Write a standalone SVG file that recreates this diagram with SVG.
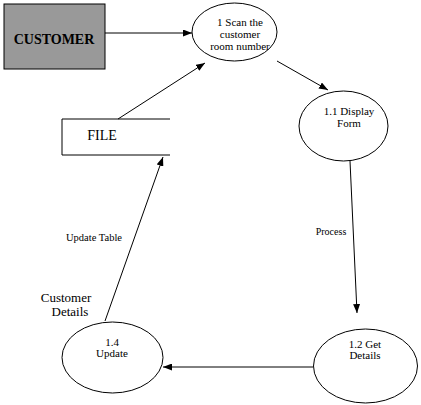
<svg xmlns="http://www.w3.org/2000/svg" width="421" height="405" viewBox="0 0 421 405">
<style>
text{font-family:"Liberation Serif","Times New Roman",serif;fill:#000;}
.n{fill:#fff;stroke:#000;stroke-width:1;}
.c{stroke:#000;stroke-width:1;fill:none;marker-end:url(#ah);}
.t{font-family:"Liberation Serif","Times New Roman",serif;font-size:11px;text-anchor:middle;}
</style>
<defs>
<marker id="ah" markerWidth="9" markerHeight="7" refX="9" refY="3.5" orient="auto" markerUnits="userSpaceOnUse">
<path d="M0,0 L9,3.5 L0,7 Z" fill="#000"/>
</marker>
</defs>
<rect width="421" height="405" fill="#fff"/>
<g id="customer">
<rect x="4" y="4" width="101" height="65" fill="#999" stroke="#000" stroke-width="1"/>
<text x="54" y="44" font-size="14" font-weight="bold" text-anchor="middle">CUSTOMER</text>
</g>
<g id="p1">
<ellipse class="n" cx="234.5" cy="32" rx="42.5" ry="29"/>
<text class="t" x="240" y="26">1 Scan the</text>
<text class="t" x="240" y="38">customer</text>
<text class="t" x="240" y="50">room number</text>
</g>
<g id="p11">
<ellipse class="n" cx="343.5" cy="126" rx="44.5" ry="35"/>
<text class="t" x="349" y="115">1.1 Display</text>
<text class="t" x="349" y="127">Form</text>
</g>
<g id="p12">
<ellipse class="n" cx="365.5" cy="366" rx="52" ry="37"/>
<text class="t" x="365" y="348">1.2 Get</text>
<text class="t" x="365" y="359">Details</text>
</g>
<g id="p14">
<ellipse class="n" cx="112.5" cy="357.5" rx="50.5" ry="35.5"/>
<text class="t" x="112" y="346">1.4</text>
<text class="t" x="112" y="357">Update</text>
</g>
<g id="file">
<path d="M170,119 H62 V155 H170" fill="#fff" stroke="#000" stroke-width="1"/>
<text x="102" y="140" font-size="14" text-anchor="middle">FILE</text>
</g>
<g id="connectors">
<line class="c" x1="105" y1="33" x2="192" y2="33"/>
<line class="c" x1="277" y1="61" x2="328" y2="90"/>
<line class="c" x1="350" y1="161" x2="357" y2="313"/>
<line class="c" x1="313" y1="367" x2="163" y2="367"/>
<line class="c" x1="105" y1="321" x2="163" y2="157"/>
<line class="c" x1="118" y1="119" x2="205" y2="63"/>
</g>
<g id="labels">
<text x="331" y="235" font-size="10" text-anchor="middle">Process</text>
<text x="94" y="241" font-size="10.5" text-anchor="middle">Update Table</text>
<text x="66" y="302" font-size="13" text-anchor="middle">Customer</text>
<text x="70" y="316" font-size="13" text-anchor="middle">Details</text>
</g>
</svg>
